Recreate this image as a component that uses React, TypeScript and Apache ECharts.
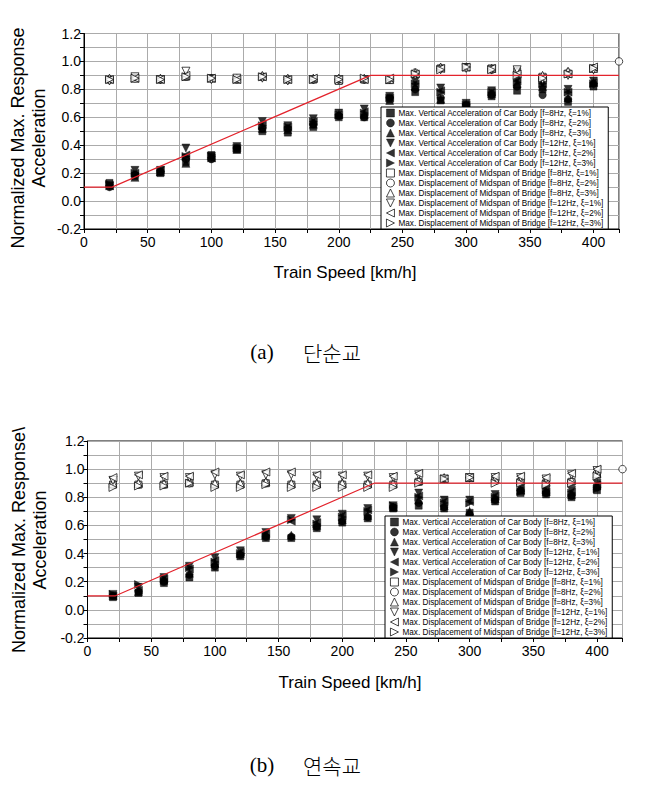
import React, { useEffect, useRef } from 'react';
import * as echarts from 'echarts';

// Train speeds [km/h]
const speeds = [20, 40, 60, 80, 100, 120, 140, 160, 180, 200, 220, 240, 260, 280, 300, 320, 340, 360, 380, 400, 420];

const seriesNames = [
  'Max. Vertical Acceleration of Car Body [f=8Hz, ξ=1%]',
  'Max. Vertical Acceleration of Car Body [f=8Hz, ξ=2%]',
  'Max. Vertical Acceleration of Car Body [f=8Hz, ξ=3%]',
  'Max. Vertical Acceleration of Car Body [f=12Hz, ξ=1%]',
  'Max. Vertical Acceleration of Car Body [f=12Hz, ξ=2%]',
  'Max. Vertical Acceleration of Car Body [f=12Hz, ξ=3%]',
  'Max. Displacement of Midspan of Bridge [f=8Hz, ξ=1%]',
  'Max. Displacement of Midspan of Bridge [f=8Hz, ξ=2%]',
  'Max. Displacement of Midspan of Bridge [f=8Hz, ξ=3%]',
  'Max. Displacement of Midspan of Bridge [f=12Hz, ξ=1%]',
  'Max. Displacement of Midspan of Bridge [f=12Hz, ξ=2%]',
  'Max. Displacement of Midspan of Bridge [f=12Hz, ξ=3%]',
];

// (a) simple bridge
const aVA8_1 = [0.13, 0.18, 0.20, 0.28, 0.33, 0.37, 0.50, 0.49, 0.53, 0.60, 0.60, 0.73, 0.78, 0.72, 0.68, 0.75, 0.79, 0.80, 0.71, 0.82, null];
const aVA8_2 = [0.10, 0.19, 0.21, 0.30, 0.30, 0.38, 0.52, 0.52, 0.55, 0.61, 0.60, 0.74, 0.80, 0.74, 0.69, 0.76, 0.82, 0.76, 0.73, 0.84, null];
const aVA8_3 = [0.11, 0.17, 0.21, 0.27, 0.31, 0.37, 0.52, 0.51, 0.55, 0.62, 0.62, 0.72, 0.82, 0.73, 0.69, 0.77, 0.84, 0.82, 0.74, 0.85, null];
const aVA12_1 = [0.11, 0.22, 0.22, 0.38, 0.32, 0.39, 0.57, 0.54, 0.59, 0.63, 0.66, 0.75, 0.86, 0.81, 0.70, 0.79, 0.87, 0.85, 0.80, 0.86, null];
const aVA12_2 = [0.11, 0.20, 0.22, 0.33, 0.31, 0.38, 0.55, 0.53, 0.57, 0.62, 0.64, 0.74, 0.84, 0.79, 0.69, 0.78, 0.86, 0.84, 0.78, 0.85, null];
const aVA12_3 = [0.12, 0.20, 0.21, 0.32, 0.32, 0.38, 0.54, 0.53, 0.57, 0.62, 0.63, 0.74, 0.84, 0.78, 0.69, 0.78, 0.85, 0.84, 0.78, 0.84, null];
const aD8_1 = [0.87, 0.88, 0.87, 0.89, 0.88, 0.87, 0.89, 0.87, 0.87, 0.86, 0.87, 0.87, 0.91, 0.95, 0.96, 0.95, 0.93, 0.89, 0.91, 0.95, null];
const aD8_2 = [0.87, 0.88, 0.87, 0.89, 0.88, 0.87, 0.89, 0.87, 0.87, 0.87, 0.87, 0.87, 0.92, 0.95, 0.96, 0.94, 0.92, 0.88, 0.92, 0.95, 1.00];
const aD8_3 = [0.88, 0.88, 0.88, 0.90, 0.88, 0.88, 0.90, 0.88, 0.88, 0.88, 0.88, 0.87, 0.92, 0.96, 0.96, 0.95, 0.93, 0.90, 0.93, 0.95, null];
const aD12_1 = [0.86, 0.89, 0.87, 0.93, 0.87, 0.88, 0.88, 0.86, 0.87, 0.87, 0.87, 0.87, 0.90, 0.94, 0.95, 0.94, 0.94, 0.87, 0.90, 0.94, null];
const aD12_2 = [0.87, 0.88, 0.87, 0.90, 0.88, 0.87, 0.89, 0.87, 0.88, 0.87, 0.87, 0.88, 0.91, 0.95, 0.96, 0.95, 0.91, 0.88, 0.91, 0.96, null];
const aD12_3 = [0.87, 0.88, 0.87, 0.89, 0.88, 0.87, 0.89, 0.87, 0.87, 0.87, 0.88, 0.87, 0.91, 0.94, 0.96, 0.94, 0.90, 0.88, 0.91, 0.95, null];

// (b) continuous bridge
const bVA8_1 = [0.09, 0.12, 0.19, 0.23, 0.30, 0.38, 0.51, 0.51, 0.58, 0.62, 0.65, 0.72, 0.74, 0.72, 0.69, 0.77, 0.83, 0.82, 0.80, 0.85, null];
const bVA8_2 = [0.10, 0.13, 0.20, 0.25, 0.31, 0.39, 0.52, 0.52, 0.59, 0.63, 0.66, 0.73, 0.76, 0.73, 0.68, 0.78, 0.85, 0.83, 0.81, 0.87, null];
const bVA8_3 = [0.10, 0.13, 0.21, 0.26, 0.33, 0.40, 0.53, 0.53, 0.60, 0.64, 0.67, 0.73, 0.78, 0.74, 0.70, 0.79, 0.85, 0.84, 0.82, 0.88, null];
const bVA12_1 = [0.11, 0.16, 0.23, 0.31, 0.37, 0.42, 0.55, 0.65, 0.64, 0.68, 0.72, 0.74, 0.83, 0.78, 0.78, 0.82, 0.86, 0.85, 0.85, 0.90, null];
const bVA12_2 = [0.10, 0.14, 0.22, 0.29, 0.35, 0.41, 0.54, 0.63, 0.62, 0.67, 0.71, 0.73, 0.81, 0.77, 0.77, 0.81, 0.85, 0.84, 0.84, 0.89, null];
const bVA12_3 = [0.11, 0.18, 0.22, 0.30, 0.34, 0.40, 0.53, 0.64, 0.61, 0.66, 0.70, 0.74, 0.80, 0.76, 0.76, 0.80, 0.84, 0.85, 0.83, 0.86, null];
const bD8_1 = [0.89, 0.89, 0.89, 0.90, 0.89, 0.89, 0.90, 0.89, 0.89, 0.89, 0.89, 0.89, 0.91, 0.93, 0.94, 0.92, 0.91, 0.90, 0.91, 0.96, null];
const bD8_2 = [0.89, 0.89, 0.89, 0.90, 0.89, 0.89, 0.90, 0.89, 0.89, 0.89, 0.89, 0.89, 0.91, 0.93, 0.94, 0.92, 0.91, 0.90, 0.91, 0.97, 1.00];
const bD8_3 = [0.90, 0.90, 0.90, 0.91, 0.90, 0.90, 0.91, 0.90, 0.90, 0.90, 0.90, 0.90, 0.92, 0.94, 0.94, 0.93, 0.92, 0.91, 0.92, 0.97, null];
const bD12_1 = [0.92, 0.95, 0.94, 0.94, 0.96, 0.95, 0.96, 0.96, 0.95, 0.95, 0.95, 0.94, 0.96, 0.93, 0.94, 0.94, 0.94, 0.93, 0.96, 0.99, null];
const bD12_2 = [0.94, 0.96, 0.95, 0.95, 0.98, 0.96, 0.98, 0.98, 0.96, 0.96, 0.96, 0.95, 0.97, 0.93, 0.94, 0.95, 0.95, 0.94, 0.97, 1.00, null];
const bD12_3 = [0.87, 0.88, 0.88, 0.90, 0.87, 0.87, 0.89, 0.87, 0.87, 0.87, 0.87, 0.87, 0.90, 0.93, 0.94, 0.90, 0.90, 0.89, 0.90, 0.95, null];

const chartAValues = [aVA8_1, aVA8_2, aVA8_3, aVA12_1, aVA12_2, aVA12_3, aD8_1, aD8_2, aD8_3, aD12_1, aD12_2, aD12_3];
const chartBValues = [bVA8_1, bVA8_2, bVA8_3, bVA12_1, bVA12_2, bVA12_3, bD8_1, bD8_2, bD8_3, bD12_1, bD12_2, bD12_3];

// Limit (red) line: [speed, value]
const limitLine = [[0, 0.1], [22, 0.1], [225, 0.9], [420, 0.9]];

const markerSymbols = ['rect', 'circle', 'triangle', 'triangle', 'triangle', 'triangle', 'rect', 'circle', 'triangle', 'triangle', 'triangle', 'triangle'];
const markerRotations = [0, 0, 0, 180, 90, -90, 0, 0, 0, 180, 90, -90];
const markerFilled = [true, true, true, true, true, true, false, false, false, false, false, false];
const TRI_UP = 'path://M5,0L10,10L0,10Z';
const TRI_DOWN = 'path://M0,0L10,0L5,10Z';
const TRI_LEFT = 'path://M10,0L10,10L0,5Z';
const TRI_RIGHT = 'path://M0,0L10,5L0,10Z';
const legendIcons = ['rect', 'circle', TRI_UP, TRI_DOWN, TRI_LEFT, TRI_RIGHT, 'rect', 'circle', TRI_UP, TRI_DOWN, TRI_LEFT, TRI_RIGHT];

const FONT = "'Liberation Sans', Arial, sans-serif";

export default function App() {
  const ref = useRef<HTMLDivElement>(null);
  useEffect(() => {
    const chart = echarts.init(ref.current!, null, { renderer: 'svg' });

    const grids = [
      { left: 84, top: 33.5, width: 535, height: 195.5 },
      { left: 87.5, top: 441, width: 535, height: 197 },
    ];

    const styleFor = (i: number) =>
      markerFilled[i]
        ? { color: '#000', borderColor: '#000', borderWidth: 0.5 }
        : { color: '#fff', borderColor: '#000', borderWidth: 0.9 };

    const sizeFor = (i: number) => (markerSymbols[i] === 'triangle' ? 8 : markerSymbols[i] === 'circle' ? 7.5 : 7);

    const series: any[] = [];
    [chartAValues, chartBValues].forEach((vals, c) => {
      vals.forEach((arr, i) => {
        const data: number[][] = [];
        arr.forEach((v, k) => {
          if (v !== null && v !== undefined) data.push([speeds[k], v as number]);
        });
        series.push({
          name: seriesNames[i],
          type: 'scatter',
          xAxisIndex: c,
          yAxisIndex: c,
          symbol: markerSymbols[i],
          symbolRotate: markerRotations[i],
          symbolSize: sizeFor(i),
          itemStyle: styleFor(i),
          data,
          z: 2,
        });
      });
      series.push({
        name: 'limit' + c,
        type: 'line',
        xAxisIndex: c,
        yAxisIndex: c,
        data: limitLine,
        symbol: 'none',
        lineStyle: { color: '#e3232c', width: 1.2 },
        z: 3,
      });
    });

    const legendData = seriesNames.map((n, i) => ({
      name: n,
      icon: legendIcons[i],
      symbolRotate: 0,
      itemStyle: styleFor(i),
    }));

    const legendBase = {
      orient: 'vertical',
      itemWidth: 8,
      itemHeight: 8,
      itemGap: 0,
      symbolRotate: 0,
      padding: [1, 5, 1, 5],
      borderColor: '#000',
      borderWidth: 1,
      borderRadius: 0,
      backgroundColor: '#fff',
      selectedMode: false,
      data: legendData,
      textStyle: { fontFamily: FONT, fontSize: 8.2, color: '#000', lineHeight: 10, padding: [0, 0, 0, -1] },
      z: 10,
    };

    const xAxisFor = (c: number) => ({
      type: 'value',
      gridIndex: c,
      min: 0,
      max: 420,
      interval: 25,
      axisLine: { show: true, onZero: false, lineStyle: { color: '#000', width: 1 } },
      axisTick: { show: true, length: 4, lineStyle: { color: '#000' } },
      axisLabel: {
        margin: 6,
        color: '#000',
        fontFamily: FONT,
        fontSize: 14,
        formatter: (v: number) => (v % 50 === 0 && v <= 400 ? String(v) : ''),
      },
      splitLine: { show: true, lineStyle: { color: '#ababab', width: 1 } },
    });

    const yAxisFor = (c: number) => ({
      type: 'value',
      gridIndex: c,
      min: -0.2,
      max: 1.2,
      interval: 0.1,
      axisLine: { show: true, onZero: false, lineStyle: { color: '#000', width: 1 } },
      axisTick: { show: true, length: 4, lineStyle: { color: '#000' } },
      axisLabel: {
        margin: 3,
        color: '#000',
        fontFamily: FONT,
        fontSize: 14,
        formatter: (v: number) => {
          const k = Math.round(v * 10);
          return Math.abs(k) % 2 === 0 ? (k / 10).toFixed(1) : '';
        },
      },
      splitLine: { show: true, lineStyle: { color: '#ababab', width: 1 } },
    });

    const titleStyle = { fontFamily: FONT, fontSize: 17, fill: '#000' };
    const yTitleStyle = { fontFamily: FONT, fontSize: 18, fill: '#000', lineHeight: 21 };

    chart.setOption({
      animation: false,
      backgroundColor: '#fff',
      grid: grids.map((g) => ({ ...g, show: true, borderColor: '#000', borderWidth: 1, backgroundColor: 'transparent' })),
      xAxis: [xAxisFor(0), xAxisFor(1)],
      yAxis: [yAxisFor(0), yAxisFor(1)],
      legend: [
        { ...legendBase, left: 381, top: 107 },
        { ...legendBase, left: 385, top: 516 },
      ],
      series,
      graphic: [
        { type: 'text', x: 345, y: 272, style: { ...titleStyle, text: 'Train Speed [km/h]', align: 'center', verticalAlign: 'middle' } },
        { type: 'text', x: 350, y: 682, style: { ...titleStyle, text: 'Train Speed [km/h]', align: 'center', verticalAlign: 'middle' } },
        { type: 'text', x: 28, y: 138, rotation: Math.PI / 2, style: { ...yTitleStyle, text: 'Normalized Max. Response\nAcceleration', align: 'center', verticalAlign: 'middle' } },
        { type: 'text', x: 29, y: 540, rotation: Math.PI / 2, style: { ...yTitleStyle, text: 'Normalized Max. Response\\\nAcceleration', align: 'center', verticalAlign: 'middle' } },
        { type: 'text', x: 262, y: 352, style: { text: '(a)', fontFamily: "'Liberation Serif', serif", fontSize: 21, fill: '#000', align: 'center', verticalAlign: 'middle' } },
        { type: 'text', x: 332, y: 352, style: { text: '단순교', fontFamily: "'Noto Sans CJK KR', sans-serif", fontSize: 21, fontWeight: 300, fill: '#000', align: 'center', verticalAlign: 'middle' } },
        { type: 'text', x: 262, y: 765, style: { text: '(b)', fontFamily: "'Liberation Serif', serif", fontSize: 21, fill: '#000', align: 'center', verticalAlign: 'middle' } },
        { type: 'text', x: 332, y: 765, style: { text: '연속교', fontFamily: "'Noto Sans CJK KR', sans-serif", fontSize: 21, fontWeight: 300, fill: '#000', align: 'center', verticalAlign: 'middle' } },
      ],
    });

    return () => chart.dispose();
  }, []);

  return <div ref={ref} style={{ position: 'absolute', left: 0, top: 0, width: 664, height: 786, background: '#fff' }} />;
}
